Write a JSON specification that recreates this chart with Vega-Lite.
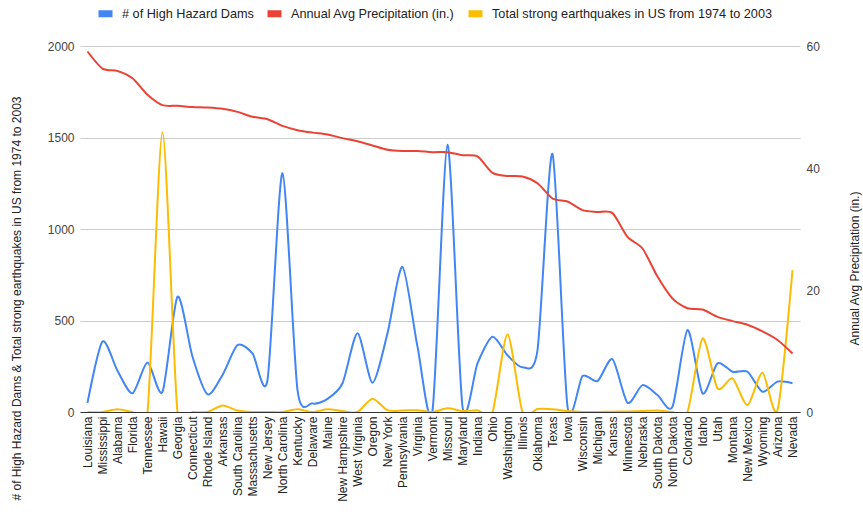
{
  "$schema": "https://vega.github.io/schema/vega-lite/v6.json",
  "width": 720,
  "height": 366,
  "autosize": "none",
  "padding": {"left": 80, "top": 46, "right": 63, "bottom": 100},
  "background": "white",
  "config": {
    "font": "Liberation Sans",
    "view": {"stroke": null}
  },
  "data": {
    "values": [
      {"state": "Louisiana", "dams": 50, "precip": 59.1, "quakes": 0},
      {"state": "Mississippi", "dams": 385, "precip": 56.3, "quakes": 0},
      {"state": "Alabama", "dams": 225, "precip": 55.9, "quakes": 15},
      {"state": "Florida", "dams": 102, "precip": 54.7, "quakes": 0},
      {"state": "Tennessee", "dams": 270, "precip": 52.0, "quakes": 0},
      {"state": "Hawaii", "dams": 111, "precip": 50.3, "quakes": 1530},
      {"state": "Georgia", "dams": 630, "precip": 50.2, "quakes": 0},
      {"state": "Connecticut", "dams": 302, "precip": 50.0, "quakes": 0},
      {"state": "Rhode Island", "dams": 97, "precip": 49.9, "quakes": 0},
      {"state": "Arkansas", "dams": 202, "precip": 49.7, "quakes": 36},
      {"state": "South Carolina", "dams": 366, "precip": 49.2, "quakes": 8},
      {"state": "Massachusetts", "dams": 320, "precip": 48.4, "quakes": 0},
      {"state": "New Jersey", "dams": 175, "precip": 48.0, "quakes": 0},
      {"state": "North Carolina", "dams": 1305, "precip": 46.9, "quakes": 0},
      {"state": "Kentucky", "dams": 120, "precip": 46.2, "quakes": 15},
      {"state": "Delaware", "dams": 47, "precip": 45.8, "quakes": 0},
      {"state": "Maine", "dams": 72, "precip": 45.5, "quakes": 15},
      {"state": "New Hampshire", "dams": 157, "precip": 44.9, "quakes": 5},
      {"state": "West Virginia", "dams": 430, "precip": 44.4, "quakes": 0},
      {"state": "Oregon", "dams": 160, "precip": 43.7, "quakes": 73},
      {"state": "New York", "dams": 430, "precip": 43.0, "quakes": 10},
      {"state": "Pennsylvania", "dams": 793, "precip": 42.8, "quakes": 8},
      {"state": "Virginia", "dams": 357, "precip": 42.8, "quakes": 10},
      {"state": "Vermont", "dams": 8, "precip": 42.6, "quakes": 0},
      {"state": "Missouri", "dams": 1460, "precip": 42.6, "quakes": 20},
      {"state": "Maryland", "dams": 29, "precip": 42.1, "quakes": 5},
      {"state": "Indiana", "dams": 266, "precip": 41.9, "quakes": 10},
      {"state": "Ohio", "dams": 411, "precip": 39.2, "quakes": 0},
      {"state": "Washington", "dams": 310, "precip": 38.7, "quakes": 425},
      {"state": "Illinois", "dams": 245, "precip": 38.6, "quakes": 0},
      {"state": "Oklahoma", "dams": 338, "precip": 37.5, "quakes": 16},
      {"state": "Texas", "dams": 1410, "precip": 35.0, "quakes": 15},
      {"state": "Iowa", "dams": 30, "precip": 34.5, "quakes": 5},
      {"state": "Wisconsin", "dams": 197, "precip": 33.1, "quakes": 0},
      {"state": "Michigan", "dams": 169, "precip": 32.8, "quakes": 0},
      {"state": "Kansas", "dams": 288, "precip": 32.6, "quakes": 2},
      {"state": "Minnesota", "dams": 51, "precip": 28.7, "quakes": 3},
      {"state": "Nebraska", "dams": 147, "precip": 26.8, "quakes": 5},
      {"state": "South Dakota", "dams": 93, "precip": 22.2, "quakes": 8},
      {"state": "North Dakota", "dams": 29, "precip": 18.6, "quakes": 0},
      {"state": "Colorado", "dams": 448, "precip": 17.0, "quakes": 0},
      {"state": "Idaho", "dams": 102, "precip": 16.8, "quakes": 402},
      {"state": "Utah", "dams": 266, "precip": 15.6, "quakes": 129},
      {"state": "Montana", "dams": 220, "precip": 14.9, "quakes": 184},
      {"state": "New Mexico", "dams": 220, "precip": 14.3, "quakes": 38},
      {"state": "Wyoming", "dams": 111, "precip": 13.2, "quakes": 215},
      {"state": "Arizona", "dams": 166, "precip": 11.8, "quakes": 11},
      {"state": "Nevada", "dams": 157, "precip": 9.6, "quakes": 775}
    ]
  },
  "encoding": {
    "x": {
      "field": "state",
      "type": "nominal",
      "sort": null,
      "scale": {"type": "point", "padding": 0.5},
      "axis": {
        "title": null,
        "labelAngle": -90,
        "labelFontSize": 12,
        "labelColor": "#222222",
        "labelPadding": 4,
        "ticks": false,
        "domain": true,
        "domainColor": "#333333",
        "domainWidth": 1,
        "grid": false
      }
    }
  },
  "layer": [
    {
      "layer": [
        {
          "mark": {"type": "line", "interpolate": "cardinal", "tension": 0.25, "strokeWidth": 2, "clip": true},
          "encoding": {
            "y": {
              "field": "dams",
              "type": "quantitative",
              "title": "# of High Hazard Dams & Total strong earthquakes in US from 1974 to 2003",
              "scale": {"domain": [0, 2000], "nice": false, "zero": true},
              "axis": {
                "values": [0, 500, 1000, 1500, 2000],
                "format": "d",
                "grid": true,
                "gridColor": "#cccccc",
                "domain": false,
                "ticks": false,
                "labelPadding": 6,
                "labelFontSize": 12,
                "labelColor": "#444444",
                "titleFontSize": 12,
                "titleFontWeight": "normal",
                "titleColor": "#222222",
                "titleAngle": -90,
                "titleBaseline": "bottom",
                "titleAlign": "center",
                "titleX": -57,
                "titleY": 252
              }
            },
            "color": {
              "datum": "# of High Hazard Dams",
              "type": "nominal",
              "scale": {
                "domain": ["# of High Hazard Dams", "Annual Avg Precipitation (in.)", "Total strong earthquakes in US from 1974 to 2003"],
                "range": ["#4285F4", "#EA4335", "#FBBC04"]
              },
              "legend": {
                "orient": "none",
                "legendX": 15,
                "legendY": -43,
                "direction": "horizontal",
                "title": null,
                "symbolType": "stroke",
                "symbolSize": 196,
                "symbolStrokeWidth": 7,
                "labelFontSize": 12.7,
                "labelColor": "#222222",
                "labelOffset": 6,
                "labelLimit": 0,
                "columnPadding": -1
              }
            }
          }
        },
        {
          "mark": {"type": "line", "interpolate": "cardinal", "tension": 0.25, "strokeWidth": 2, "clip": true},
          "encoding": {
            "y": {
              "field": "quakes",
              "type": "quantitative",
              "title": "# of High Hazard Dams & Total strong earthquakes in US from 1974 to 2003",
              "scale": {"domain": [0, 2000], "nice": false, "zero": true}
            },
            "color": {"datum": "Total strong earthquakes in US from 1974 to 2003", "type": "nominal"}
          }
        }
      ]
    },
    {
      "mark": {"type": "line", "interpolate": "cardinal", "tension": 0.25, "strokeWidth": 2, "clip": true},
      "encoding": {
        "y": {
          "field": "precip",
          "type": "quantitative",
          "title": "Annual Avg Precipitation (in.)",
          "scale": {"domain": [0, 60], "nice": false},
          "axis": {
            "orient": "right",
            "values": [0, 20, 40, 60],
            "grid": false,
            "domain": false,
            "ticks": false,
            "labelPadding": 6,
            "labelFontSize": 12,
            "labelColor": "#444444",
            "titleFontSize": 12,
            "titleFontWeight": "normal",
            "titleColor": "#222222",
            "titleAngle": -90,
            "titleBaseline": "bottom",
            "titleAlign": "center",
            "titleX": 61,
            "titleY": 222
          }
        },
        "color": {"datum": "Annual Avg Precipitation (in.)", "type": "nominal"}
      }
    }
  ],
  "resolve": {"scale": {"y": "independent"}}
}
